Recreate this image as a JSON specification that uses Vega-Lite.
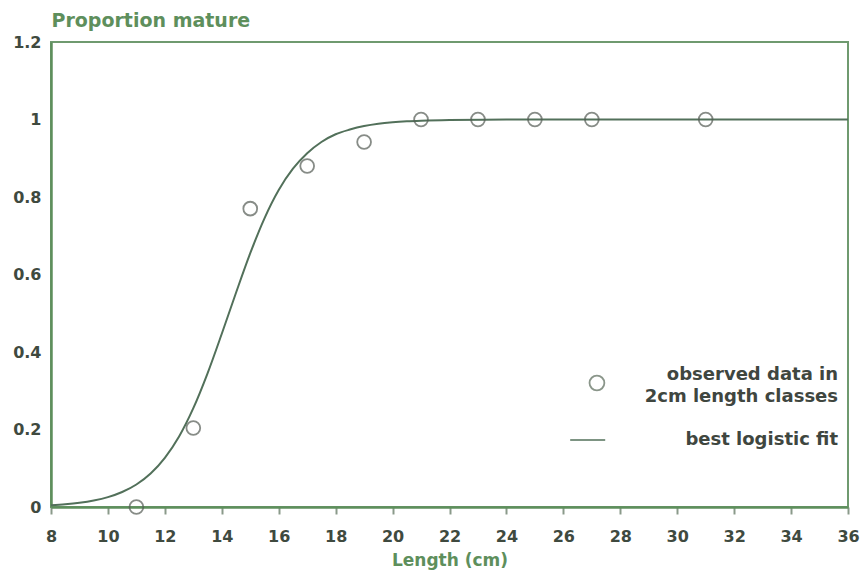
{
  "$schema": "https://vega.github.io/schema/vega-lite/v6.json",
  "width": 797,
  "height": 465,
  "autosize": "none",
  "padding": {"left": 51, "top": 42, "right": 12, "bottom": 69},
  "background": "white",
  "config": {
    "view": {"stroke": "#6f9a6f", "strokeWidth": 2},
    "axis": {
      "labelFont": "DejaVu Sans",
      "labelFontWeight": "bold",
      "labelFontSize": 16,
      "labelColor": "#3f4a3f",
      "titleFont": "DejaVu Sans",
      "titleFontWeight": "bold",
      "titleFontSize": 16,
      "titleColor": "#5e8f5c",
      "grid": false,
      "domainColor": "#5e8f5c",
      "domainWidth": 2.5
    }
  },
  "datasets": {
    "obs": [
      {"length": 11, "p": 0.0},
      {"length": 13, "p": 0.204},
      {"length": 15, "p": 0.77},
      {"length": 17, "p": 0.88},
      {"length": 19, "p": 0.942},
      {"length": 21, "p": 1.0},
      {"length": 23, "p": 1.0},
      {"length": 25, "p": 1.0},
      {"length": 27, "p": 1.0},
      {"length": 31, "p": 1.0}
    ],
    "fit": [
      {"length": 8, "p": 0.0047},
      {"length": 8.5, "p": 0.0072},
      {"length": 9, "p": 0.011},
      {"length": 9.5, "p": 0.0168},
      {"length": 10, "p": 0.0255},
      {"length": 10.5, "p": 0.0387},
      {"length": 11, "p": 0.0581},
      {"length": 11.5, "p": 0.0865},
      {"length": 12, "p": 0.127},
      {"length": 12.5, "p": 0.182},
      {"length": 13, "p": 0.255},
      {"length": 13.5, "p": 0.345},
      {"length": 14, "p": 0.447},
      {"length": 14.5, "p": 0.553},
      {"length": 15, "p": 0.655},
      {"length": 15.5, "p": 0.745},
      {"length": 16, "p": 0.818},
      {"length": 16.5, "p": 0.873},
      {"length": 17, "p": 0.913},
      {"length": 17.5, "p": 0.942},
      {"length": 18, "p": 0.962},
      {"length": 18.5, "p": 0.974},
      {"length": 19, "p": 0.983},
      {"length": 19.5, "p": 0.989},
      {"length": 20, "p": 0.9928},
      {"length": 20.5, "p": 0.9953},
      {"length": 21, "p": 0.9969},
      {"length": 22, "p": 0.9987},
      {"length": 24, "p": 0.9998},
      {"length": 26, "p": 1.0},
      {"length": 36, "p": 1.0}
    ],
    "legendRow": [{"item": "legend"}]
  },
  "layer": [
    {
      "data": {"name": "fit"},
      "mark": {"type": "line", "color": "#52705a", "strokeWidth": 2, "interpolate": "monotone"},
      "encoding": {
        "x": {
          "field": "length", "type": "quantitative",
          "scale": {"domain": [8, 36], "nice": false, "zero": false},
          "axis": {
            "values": [8, 10, 12, 14, 16, 18, 20, 22, 24, 26, 28, 30, 32, 34, 36],
            "title": "Length (cm)",
            "titleFontSize": 17,
            "titlePadding": 8,
            "labelPadding": 14,
            "tickColor": "#8a9a8a",
            "tickSize": 7,
            "tickWidth": 2,
            "labelFlush": false
          }
        },
        "y": {
          "field": "p", "type": "quantitative",
          "scale": {"domain": [0, 1.2], "nice": false},
          "axis": {
            "values": [0, 0.2, 0.4, 0.6, 0.8, 1, 1.2],
            "format": "~g",
            "ticks": false,
            "labelPadding": 10,
            "title": "Proportion mature",
            "titleFontSize": 19,
            "titleAngle": 0,
            "titleAlign": "left",
            "titleBaseline": "middle",
            "titleX": 0,
            "titleY": -22
          }
        }
      }
    },
    {
      "data": {"name": "obs"},
      "mark": {"type": "point", "shape": "circle", "filled": false, "size": 190, "stroke": "#555c55", "strokeWidth": 1.8},
      "encoding": {
        "x": {"field": "length", "type": "quantitative"},
        "y": {"field": "p", "type": "quantitative"}
      }
    },
    {
      "data": {"name": "legendRow"},
      "mark": {"type": "point", "shape": "circle", "filled": false, "size": 220, "stroke": "#5a6a5a", "strokeWidth": 1.8},
      "encoding": {"x": {"datum": 27.18}, "y": {"datum": 0.32}}
    },
    {
      "data": {"values": [{"lx": 26.24, "ly": 0.173}, {"lx": 27.47, "ly": 0.173}]},
      "mark": {"type": "line", "color": "#52705a", "strokeWidth": 1.5},
      "encoding": {"x": {"field": "lx", "type": "quantitative"}, "y": {"field": "ly", "type": "quantitative"}}
    },
    {
      "data": {"name": "legendRow"},
      "mark": {"type": "text", "align": "right", "baseline": "middle", "font": "DejaVu Sans", "fontWeight": "bold", "fontSize": 18, "color": "#3f463f", "text": "observed data in"},
      "encoding": {"x": {"datum": 35.65}, "y": {"datum": 0.34}}
    },
    {
      "data": {"name": "legendRow"},
      "mark": {"type": "text", "align": "right", "baseline": "middle", "font": "DejaVu Sans", "fontWeight": "bold", "fontSize": 18, "color": "#3f463f", "text": "2cm length classes"},
      "encoding": {"x": {"datum": 35.65}, "y": {"datum": 0.284}}
    },
    {
      "data": {"name": "legendRow"},
      "mark": {"type": "text", "align": "right", "baseline": "middle", "font": "DejaVu Sans", "fontWeight": "bold", "fontSize": 18, "color": "#3f463f", "text": "best logistic fit"},
      "encoding": {"x": {"datum": 35.65}, "y": {"datum": 0.173}}
    }
  ]
}
